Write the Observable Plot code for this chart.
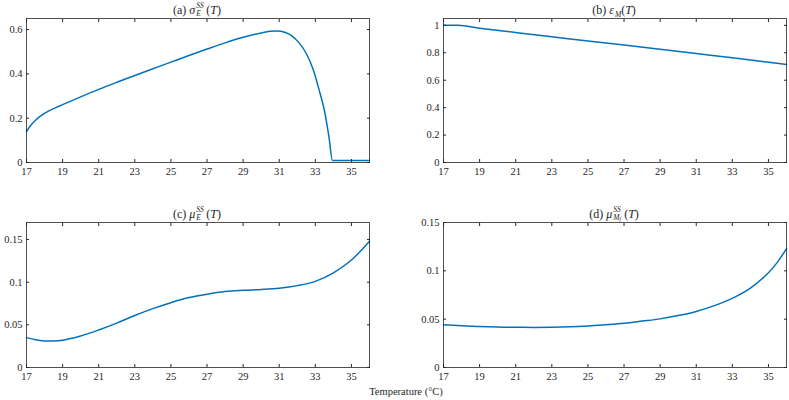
<!DOCTYPE html>
<html><head><meta charset="utf-8">
<script src="https://cdn.jsdelivr.net/npm/d3@7"></script>
<script src="https://cdn.jsdelivr.net/npm/@observablehq/plot@0.6"></script>
<style>
body{margin:0;background:#fff;}
#wrap{position:relative;width:789px;height:400px;font-family:"Liberation Serif",serif;color:#262626;overflow:hidden;}
.panel{position:absolute;}
.title{position:absolute;font-size:12px;line-height:14px;white-space:nowrap;transform:translateX(-50%);}
.stack{display:inline-block;position:relative;width:11px;height:10px;font-style:italic;font-size:7.5px;}
.stack .up{position:absolute;left:1px;top:-2px;line-height:8px;}
.stack .dn{position:absolute;left:1px;top:5.5px;line-height:8px;white-space:nowrap;}
.sub{font-size:7.5px;font-style:italic;position:relative;top:2.5px;margin-left:1px;}
.subsub{font-size:5.5px;font-style:italic;position:relative;top:1.5px;}
.xlabel{position:absolute;font-size:10.5px;white-space:nowrap;transform:translateX(-50%);}
</style>
</head><body>
<div id="wrap"></div>
<script>
// ---- data ----
const xTicks = [17, 19, 21, 23, 25, 27, 29, 31, 33, 35];

const tA = [17, 17.25, 17.5, 17.75, 18, 18.5, 19, 20, 21, 22, 23, 24, 25, 26, 27, 28, 29, 30, 30.5, 30.9, 31.3, 31.7, 32.1, 32.5, 32.9, 33.2, 33.5, 33.75, 33.95, 35, 36];
const sigmaE = [0.14, 0.169, 0.191, 0.208, 0.222, 0.243, 0.261, 0.296, 0.33, 0.362, 0.393, 0.423, 0.453, 0.483, 0.512, 0.54, 0.565, 0.585, 0.592, 0.594, 0.588, 0.572, 0.54, 0.492, 0.415, 0.33, 0.235, 0.118, 0.009, 0.009, 0.009];
const yTicksA = [0, 0.2, 0.4, 0.6];

const tB = [17, 17.8, 19, 21, 23, 25, 27, 29, 31, 33, 35, 36];
const epsM = [1, 1, 0.979, 0.948, 0.917, 0.886, 0.856, 0.825, 0.794, 0.763, 0.731, 0.715];
const yTicksB = [0, 0.2, 0.4, 0.6, 0.8, 1];

const tC = [17, 17.5, 18, 18.5, 19, 20, 21, 22, 23, 24, 25, 26, 27, 28, 29, 30, 31, 32, 33, 34, 35, 36];
const muE = [0.035, 0.0325, 0.0312, 0.031, 0.032, 0.037, 0.044, 0.052, 0.061, 0.069, 0.076, 0.082, 0.086, 0.089, 0.0905, 0.0915, 0.093, 0.096, 0.101, 0.111, 0.126, 0.148];
const yTicksC = [0, 0.05, 0.1, 0.15];

const tD = [17, 18, 19, 20, 21, 22, 23, 24, 25, 26, 27, 28, 29, 30, 31, 32, 33, 34, 35, 35.5, 36];
const muMf = [0.0443, 0.0432, 0.0423, 0.0418, 0.0416, 0.0415, 0.0416, 0.0421, 0.043, 0.0442, 0.0458, 0.048, 0.0503, 0.0537, 0.058, 0.064, 0.0715, 0.082, 0.098, 0.109, 0.123];
const yTicksD = [0, 0.05, 0.1, 0.15];

// ---- drawing ----
const wrap = document.getElementById("wrap");
const ink = "#262626";

function panel({T, V, ydomain, yticks, curve, left, top, width, height, ml, mr, mt, mb}) {
  const rows = T.map((t, i) => ({T: t, v: V[i]}));
  const p = Plot.plot({
    width, height,
    marginLeft: ml, marginRight: mr, marginTop: mt, marginBottom: mb,
    style: {fontFamily: "'Liberation Serif', serif", fontSize: "10.5px", color: ink, background: "transparent", overflow: "visible"},
    x: {domain: [17, 36]},
    y: {domain: ydomain},
    marks: [
      Plot.line(rows, {x: "T", y: "v", stroke: "#0072BD", strokeWidth: 1.5, curve}),
      Plot.frame({stroke: ink, strokeWidth: 0.8}),
      Plot.axisX({ticks: xTicks, tickSize: -3, tickPadding: 8, tickFormat: d => String(d), label: null, stroke: ink, fill: ink}),
      Plot.axisX({anchor: "top", ticks: xTicks, tickSize: -3, tickFormat: () => "", label: null, stroke: ink}),
      Plot.axisY({ticks: yticks, tickSize: -3, tickPadding: 7, tickFormat: d => String(d), label: null, stroke: ink, fill: ink}),
      Plot.axisY({anchor: "right", ticks: yticks, tickSize: -3, tickFormat: () => "", label: null, stroke: ink})
    ]
  });
  const d = document.createElement("div");
  d.className = "panel";
  d.style.left = left + "px";
  d.style.top = top + "px";
  d.appendChild(p);
  wrap.appendChild(d);
}

panel({T: tA, V: sigmaE, ydomain: [0, 0.65], yticks: yTicksA, curve: "monotone-x", left: 0, top: 0, width: 395, height: 195, ml: 26, mr: 26, mt: 18, mb: 33});
panel({T: tB, V: epsM, ydomain: [0, 1.05], yticks: yTicksB, curve: "monotone-x", left: 395, top: 0, width: 394, height: 195, ml: 48, mr: 3, mt: 18, mb: 33});
panel({T: tC, V: muE, ydomain: [0, 0.17], yticks: yTicksC, curve: "catmull-rom", left: 0, top: 195, width: 395, height: 205, ml: 26, mr: 26, mt: 27, mb: 33});
panel({T: tD, V: muMf, ydomain: [0, 0.15], yticks: yTicksD, curve: "catmull-rom", left: 395, top: 195, width: 394, height: 205, ml: 48, mr: 3, mt: 27, mb: 33});

function title(html, cx, top) {
  const t = document.createElement("div");
  t.className = "title";
  t.style.left = cx + "px";
  t.style.top = top + "px";
  t.innerHTML = html;
  wrap.appendChild(t);
}
title('(a) <i>σ</i><span class="stack"><span class="up">SS</span><span class="dn">E</span></span>(<i>T</i>)', 197, 3);
title('(b) <i>ε</i><span class="sub">M</span>(<i>T</i>)', 614, 3);
title('(c) <i>μ</i><span class="stack"><span class="up">SS</span><span class="dn">E</span></span>(<i>T</i>)', 197, 207);
title('(d) <i>μ</i><span class="stack" style="width:12px"><span class="up">SS</span><span class="dn">M<span class="subsub">f</span></span></span>(<i>T</i>)', 614, 207);

const xl = document.createElement("div");
xl.className = "xlabel";
xl.style.left = "406px";
xl.style.top = "386px";
xl.textContent = "Temperature (°C)";
wrap.appendChild(xl);
</script>
</body></html>
